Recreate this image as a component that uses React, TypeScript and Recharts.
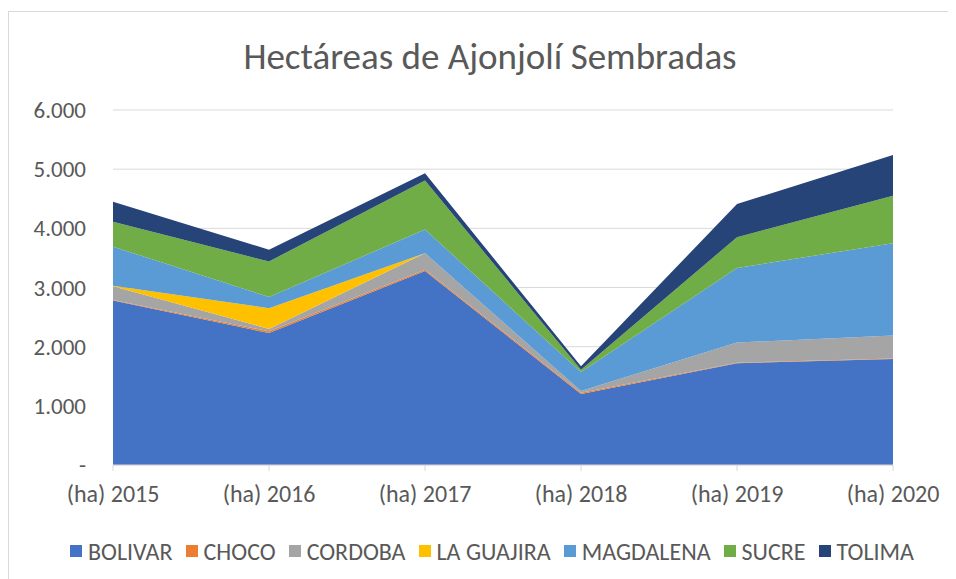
import { AreaChart, Area, XAxis, YAxis, CartesianGrid, Legend } from 'recharts'

const years = ['(ha) 2015', '(ha) 2016', '(ha) 2017', '(ha) 2018', '(ha) 2019', '(ha) 2020']

const bolivar = [2780, 2230, 3280, 1200, 1720, 1790]
const choco = [10, 30, 20, 20, 10, 10]
const cordoba = [230, 40, 280, 30, 340, 390]
const laGuajira = [10, 350, 0, 0, 0, 0]
const magdalena = [660, 190, 400, 320, 1260, 1560]
const sucre = [420, 600, 830, 40, 520, 800]
const tolima = [340, 200, 120, 60, 560, 690]

const yTicks = [0, 1000, 2000, 3000, 4000, 5000, 6000]

const series = [
  { key: 'BOLIVAR', values: bolivar, color: '#4472C4' },
  { key: 'CHOCO', values: choco, color: '#ED7D31' },
  { key: 'CORDOBA', values: cordoba, color: '#A5A5A5' },
  { key: 'LA GUAJIRA', values: laGuajira, color: '#FFC000' },
  { key: 'MAGDALENA', values: magdalena, color: '#5B9BD5' },
  { key: 'SUCRE', values: sucre, color: '#70AD47' },
  { key: 'TOLIMA', values: tolima, color: '#264478' },
]

const FONT = "Carlito, 'Noto Sans', sans-serif"
const TEXT = '#595959'

const formatTick = (v: number) =>
  v === 0 ? '-' : String(v).replace(/\B(?=(\d{3})+(?!\d))/g, '.')

function LegendRow() {
  return (
    <div
      style={{
        display: 'flex',
        justifyContent: 'center',
        alignItems: 'center',
        height: 28,
        fontSize: 24,
        fontFamily: FONT,
        color: TEXT,
        whiteSpace: 'nowrap',
      }}
    >
      {series.map((s) => (
        <span key={s.key} style={{ display: 'flex', alignItems: 'center', marginRight: 13 }}>
          <span style={{ width: 12, height: 12, background: s.color, marginRight: 6 }} />
          {s.key}
        </span>
      ))}
    </div>
  )
}

export default function App() {
  const data = years.map((year, i) => {
    const row: Record<string, string | number> = { year }
    series.forEach((s) => {
      row[s.key] = s.values[i]
    })
    return row
  })

  return (
    <div
      style={{
        position: 'relative',
        width: 948,
        height: 568,
        marginTop: 3,
        borderTop: '1px solid #d9d9d9',
        borderLeft: '1px solid #d9d9d9',
        boxSizing: 'border-box',
        fontFamily: FONT,
        background: '#fff',
      }}
    >
      <div
        style={{
          position: 'absolute',
          left: 0,
          width: 962,
          top: 23,
          textAlign: 'center',
          fontSize: 37,
          lineHeight: '44px',
          color: TEXT,
          whiteSpace: 'nowrap',
        }}
      >
        Hectáreas de Ajonjolí Sembradas
      </div>
      <AreaChart
        width={947}
        height={567}
        data={data}
        margin={{ top: 98, right: 63, bottom: 36, left: 44 }}
      >
        <CartesianGrid vertical={false} stroke="#d9d9d9" />
        <XAxis
          dataKey="year"
          stroke="#d9d9d9"
          tickSize={6}
          tickMargin={14}
          tick={{ fill: TEXT, fontSize: 24, fontFamily: FONT }}
          height={50}
          interval={0}
        />
        <YAxis
          ticks={yTicks}
          domain={[0, 6000]}
          tickFormatter={formatTick}
          axisLine={false}
          tickLine={false}
          tickSize={0}
          tickMargin={27}
          width={60}
          tick={{ fill: TEXT, fontSize: 23, fontFamily: FONT }}
        />
        <Legend
          content={() => <LegendRow />}
          wrapperStyle={{ bottom: 14, left: 16, width: 947 }}
        />
        {series.map((s) => (
          <Area
            key={s.key}
            type="linear"
            dataKey={s.key}
            stackId="1"
            stroke="none"
            fill={s.color}
            fillOpacity={1}
            isAnimationActive={false}
          />
        ))}
      </AreaChart>
    </div>
  )
}
